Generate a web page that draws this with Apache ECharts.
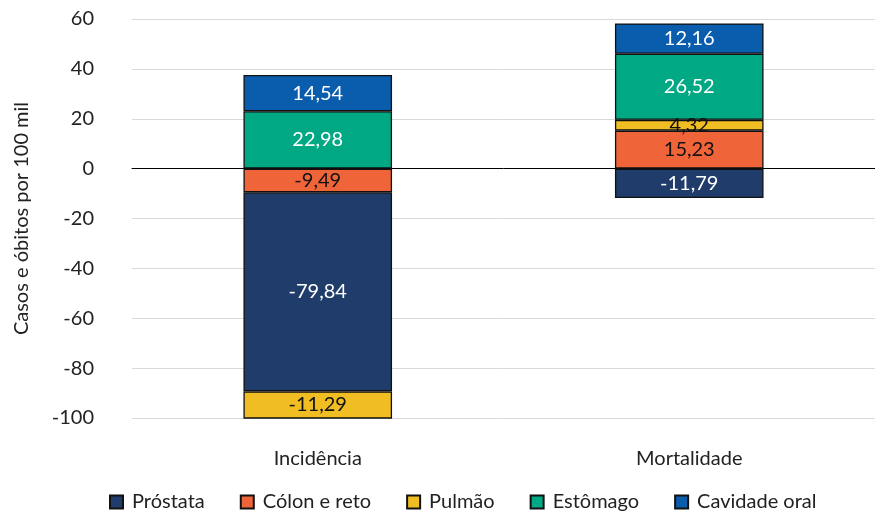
<!DOCTYPE html>
<html>
<head>
<meta charset="utf-8">
<script src="https://cdn.jsdelivr.net/npm/echarts@6/dist/echarts.min.js"></script>
<style>html,body{margin:0;padding:0;background:#fff}#c{width:875px;height:513px}</style>
</head>
<body>
<div id="c"></div>
<script>
const categories = ['Incidência', 'Mortalidade'];
const legendOrder = ['Próstata', 'Cólon e reto', 'Pulmão', 'Estômago', 'Cavidade oral'];
const prostata = [-79.84, -11.79];
const colonReto = [-9.49, 15.23];
const pulmao = [-11.29, 4.32];
const estomago = [22.98, 26.52];
const cavidadeOral = [14.54, 12.16];
const yTicks = [-100, -80, -60, -40, -20, 0, 20, 40, 60];

const FONT = 'Lato';
const fmt = v => v.toFixed(2).replace('.', ',');

function mk(name, data, color, labelColor) {
  return {
    name: name, type: 'bar', stack: 'total', data: data, barWidth: '40%',
    itemStyle: { color: color, borderColor: '#111', borderWidth: 1.3 },
    label: { show: true, position: 'inside', color: labelColor, fontFamily: FONT, fontSize: 20,
      formatter: p => fmt(p.value) },
    emphasis: { disabled: true }
  };
}

const chart = echarts.init(document.getElementById('c'));
chart.setOption({
  animation: false,
  textStyle: { fontFamily: FONT },
  grid: { left: 132, right: 0, top: 19, bottom: 95 },
  legend: {
    data: legendOrder, left: 104, top: 487, itemWidth: 13, itemHeight: 13, itemGap: 35,
    textStyle: { fontFamily: FONT, fontSize: 20, color: '#222', padding: [0, 0, 0, 4] }, icon: 'rect'
  },
  xAxis: {
    type: 'category', data: categories,
    axisTick: { show: false },
    axisLine: { show: true, onZero: true, lineStyle: { color: '#000', width: 1 } },
    axisLabel: { fontFamily: FONT, fontSize: 20, color: '#222', margin: 31 }
  },
  yAxis: {
    type: 'value', min: yTicks[0], max: yTicks[yTicks.length - 1], interval: 20,
    name: 'Casos e óbitos por 100 mil', nameLocation: 'middle', nameGap: 100,
    nameTextStyle: { fontFamily: FONT, fontSize: 20, color: '#222' },
    axisLine: { show: false }, axisTick: { show: false },
    axisLabel: { fontFamily: FONT, fontSize: 20, color: '#222', margin: 38 },
    splitLine: { lineStyle: { color: '#d9d9d9', width: 1 } }
  },
  series: [
    mk('Cólon e reto', colonReto, '#F0643A', '#111'),
    mk('Próstata', prostata, '#1F3C6B', '#fff'),
    mk('Pulmão', pulmao, '#F0BE22', '#111'),
    mk('Estômago', estomago, '#00A884', '#fff'),
    mk('Cavidade oral', cavidadeOral, '#0A5CAD', '#fff')
  ]
});
</script>
</body>
</html>
